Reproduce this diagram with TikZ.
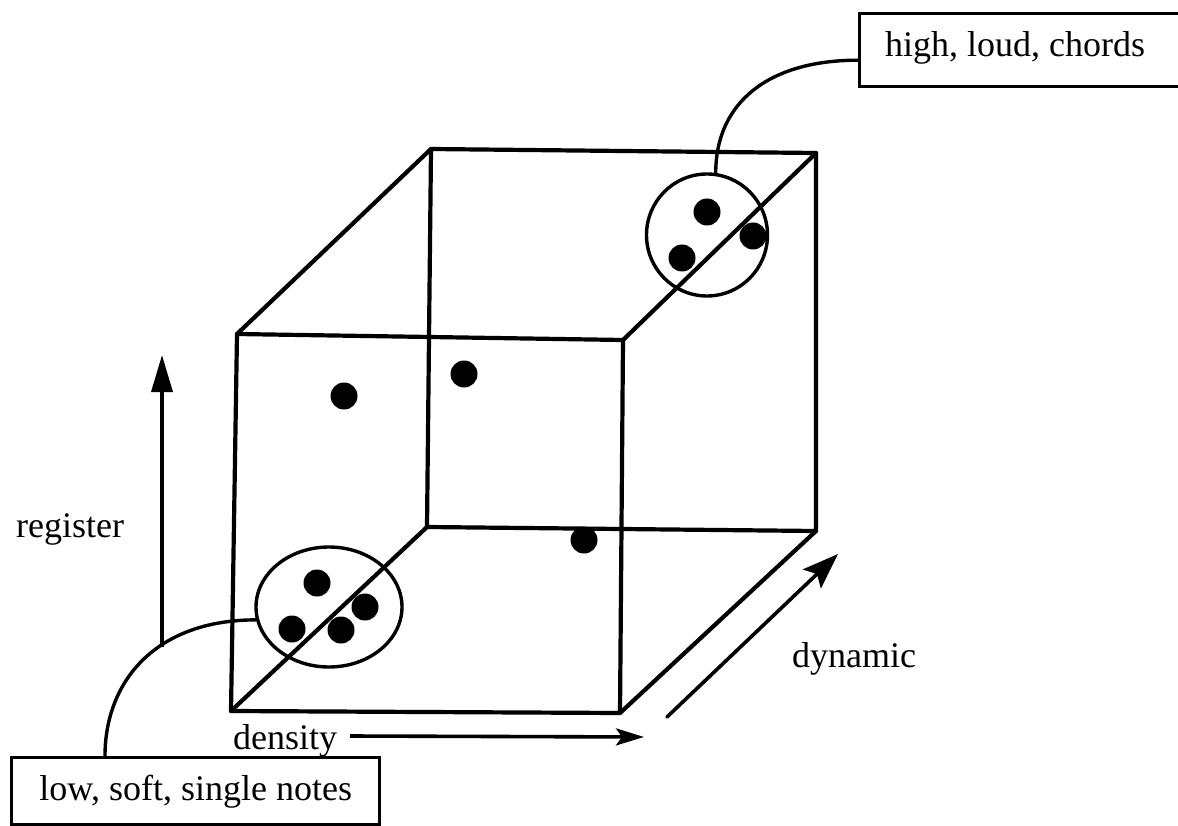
\documentclass[tikz,border=0pt]{standalone}
\usepackage{fontspec}
\setmainfont{Liberation Serif}
\usetikzlibrary{arrows.meta,shapes.geometric}
\tikzset{
  cubeedge/.style={line width=4.2pt, line cap=round, line join=round},
  dotmark/.style={circle, fill=black, inner sep=0pt, minimum size=27pt},
  group/.style={ellipse, draw, line width=3.4pt, inner sep=0pt},
  labelbox/.style={draw, line width=3.4pt, inner sep=0pt},
  conn/.style={line width=3.4pt},
  axisarrow/.style={line width=3.6pt},
  lbl/.style={font=\fontsize{36}{40}\selectfont, inner sep=0pt}
}
\begin{document}
\begin{tikzpicture}[x=1pt,y=-1pt]
\useasboundingbox (0,0) rectangle (1178,826);
\clip (0,0) rectangle (1178,826);

% cube corners
\coordinate (FTL) at (237,334);
\coordinate (FTR) at (623,340);
\coordinate (FBL) at (231,711);
\coordinate (FBR) at (620,713);
\coordinate (BTL) at (431,149);
\coordinate (BTR) at (816,153);
\coordinate (BBL) at (427,527);
\coordinate (BBR) at (816,531);

% back face
\draw[cubeedge] (BTL) -- (BTR) -- (BBR) -- (BBL) -- cycle;
% front face
\draw[cubeedge] (FTL) -- (FTR) -- (FBR) -- (FBL) -- cycle;
% depth edges
\draw[cubeedge] (FTL) -- (BTL);
\draw[cubeedge] (FTR) -- (BTR);
\draw[cubeedge] (FBL) -- (BBL);
\draw[cubeedge] (FBR) -- (BBR);

% groups
\node[group, minimum width=121pt, minimum height=122pt] (hc) at (707,235) {};
\node[group, minimum width=146pt, minimum height=120pt] (lc) at (329,607) {};

% dots
\node[dotmark] (h1) at (707,212) {};
\node[dotmark] (h2) at (682,258) {};
\node[dotmark] (h3) at (753,236) {};
\node[dotmark] (l1) at (317,583) {};
\node[dotmark] (l2) at (292,629) {};
\node[dotmark] (l3) at (341,630) {};
\node[dotmark] (l4) at (365,607) {};
\node[dotmark] (m1) at (344,396) {};
\node[dotmark] (m2) at (464,374) {};
\node[dotmark] (m3) at (584,540) {};

% label boxes
\node[labelbox, minimum width=327pt, minimum height=73pt, anchor=north west] (hl) at (858,12) {};
\node[lbl, anchor=base west] (hlt) at (885,57) {high, loud, chords};
\node[labelbox, minimum width=368pt, minimum height=67pt, anchor=north west] (ll) at (10,756) {};
\node[lbl, anchor=base] (llt) at (ll.center |- 0,800) {low, soft, single notes};

% connectors
\draw[conn] (hc.82) .. controls +(0,-70) and +(-90,0) .. ([yshift=-10pt]hl.west);
\draw[conn] (lc.190) .. controls +(-100,0) and +(0,-75) .. ([xshift=95pt]ll.north west);

% axes
\coordinate (r0) at (162,647);
\coordinate (r1) at (162,355);
\draw[axisarrow, -{Triangle[length=37pt,width=21pt]}] (r0) -- (r1);
\node[lbl, anchor=base west] (reg) at (16,537) {register};

\coordinate (d0) at (350,736);
\coordinate (d1) at (644,737);
\draw[axisarrow, -{Stealth[length=28pt,width=17pt,inset=6pt]}] (d0) -- (d1);
\node[lbl, anchor=base west] (den) at (233,749) {density};

\coordinate (y0) at (667,717);
\coordinate (y1) at (838,554);
\draw[axisarrow, line cap=round, -{Stealth[length=36pt,width=26pt,inset=7pt]}] (y0) -- (y1);
\node[lbl, anchor=base west] (dyn) at (792,667) {dynamic};
\end{tikzpicture}
\end{document}
